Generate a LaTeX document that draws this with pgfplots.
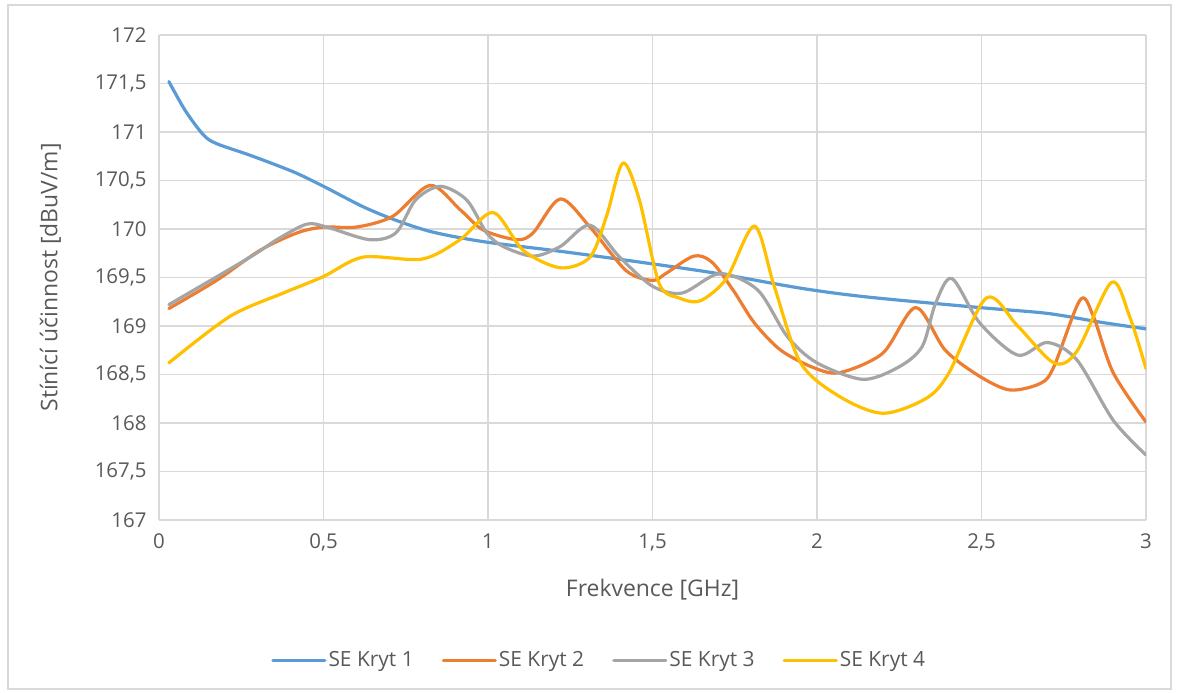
\documentclass[border=0pt]{standalone}
\usepackage{pgfplots}
\pgfplotsset{compat=1.18}
\usepackage{fontspec}
\setmainfont{Open Sans}
\definecolor{c1}{HTML}{5B9BD5}
\definecolor{c2}{HTML}{ED7D31}
\definecolor{c3}{HTML}{A5A5A5}
\definecolor{c4}{HTML}{FFC000}
\definecolor{txt}{HTML}{595959}
\definecolor{grd}{HTML}{D9D9D9}
\begin{document}
\begin{tikzpicture}
\path[use as bounding box] (0bp,0bp) rectangle (1179bp,693bp);
\draw[grd, line width=1.2bp] (8bp,4bp) rectangle (1171bp,688bp);
\begin{axis}[
  at={(159bp,173bp)}, anchor=south west,
  scale only axis, width=987bp, height=485bp,
  xmin=0, xmax=3, ymin=167, ymax=172,
  xtick={0,0.5,...,3}, ytick={167,167.5,...,172},
  grid=major, major grid style={grd, line width=1.2bp},
  tick style={draw=none},
  axis x line*=bottom, axis y line*=left,
  x axis line style={draw=grd, line width=1.2bp, -},
  y axis line style={draw=none, -},
  font=\fontsize{20.5}{24}\selectfont,
  tick label style={text=txt, font=\fontsize{20.5}{24}\selectfont},
  /pgf/number format/assume math mode=true,
  /pgf/number format/use comma,
  /pgf/number format/1000 sep={},
  yticklabel style={/pgf/number format/fixed, /pgf/number format/precision=1},
  xticklabel style={/pgf/number format/fixed, /pgf/number format/precision=1},
  xlabel={Frekvence [GHz]},
  ylabel={Stínící účinnost [dBuV/m]},
  xlabel style={at={(rel axis cs:0.5,-0.144)}, anchor=center, text=txt, font=\fontsize{23}{27}\selectfont},
  ylabel style={at={(rel axis cs:-0.110,0.5)}, anchor=center, rotate=0, text=txt, font=\fontsize{23}{27}\selectfont},
  xticklabel shift=10bp, yticklabel shift=9bp,
  legend columns=4,
  legend style={at={(rel axis cs:0.446,-0.289)}, anchor=center, draw=none, fill=none,
    text=txt, font=\fontsize{21}{25}\selectfont,
    /tikz/every even column/.append style={column sep=26bp}},
  legend image code/.code={\draw[#1] (0bp,0bp) -- (52bp,0bp);},
  every axis plot/.append style={line width=3.2bp, smooth, line join=round, line cap=round, mark=none},
]
\addplot[c1] coordinates {(0.03,171.52) (0.08,171.22) (0.135,170.97) (0.175,170.88) (0.277,170.76) (0.408,170.59) (0.5,170.44) (0.62,170.23) (0.72,170.09) (0.83,169.97) (0.985,169.87) (1.22,169.77) (1.48,169.65) (1.7,169.54) (1.95,169.39) (2.15,169.30) (2.495,169.19) (2.70,169.13) (2.86,169.04) (3.0,168.97)};
\addlegendentry{SE Kryt 1}
\addplot[c2] coordinates {(0.03,169.18) (0.175,169.47) (0.307,169.78) (0.42,169.96) (0.5,170.02) (0.6,170.02) (0.71,170.13) (0.824,170.45) (0.915,170.2) (0.985,169.99) (1.087,169.89) (1.137,169.96) (1.22,170.31) (1.31,170.02) (1.42,169.57) (1.50,169.47) (1.54,169.54) (1.625,169.72) (1.68,169.66) (1.745,169.37) (1.81,169.03) (1.89,168.75) (1.99,168.57) (2.07,168.52) (2.2,168.72) (2.30,169.19) (2.39,168.75) (2.495,168.48) (2.587,168.34) (2.68,168.41) (2.72,168.58) (2.80,169.27) (2.84,169.1) (2.90,168.52) (3.0,168.01)};
\addlegendentry{SE Kryt 2}
\addplot[c3] coordinates {(0.03,169.22) (0.277,169.71) (0.358,169.89) (0.449,170.05) (0.51,170.02) (0.64,169.89) (0.72,169.96) (0.78,170.3) (0.855,170.44) (0.935,170.3) (0.996,169.96) (1.046,169.82) (1.137,169.72) (1.22,169.82) (1.31,170.04) (1.40,169.71) (1.50,169.41) (1.59,169.34) (1.705,169.54) (1.82,169.37) (1.91,168.89) (2.00,168.62) (2.14,168.45) (2.25,168.58) (2.32,168.79) (2.36,169.23) (2.41,169.49) (2.495,169.03) (2.61,168.70) (2.70,168.83) (2.79,168.65) (2.90,168.03) (3.0,167.67)};
\addlegendentry{SE Kryt 3}
\addplot[c4] coordinates {(0.03,168.62) (0.216,169.1) (0.378,169.34) (0.5,169.51) (0.62,169.71) (0.80,169.69) (0.915,169.89) (1.016,170.17) (1.107,169.78) (1.22,169.6) (1.31,169.71) (1.36,170.13) (1.41,170.68) (1.46,170.3) (1.52,169.44) (1.58,169.29) (1.645,169.26) (1.725,169.49) (1.81,170.03) (1.87,169.41) (1.95,168.62) (2.07,168.27) (2.20,168.1) (2.33,168.25) (2.40,168.51) (2.515,169.29) (2.61,169.0) (2.72,168.62) (2.79,168.74) (2.895,169.45) (2.95,169.1) (3.0,168.56)};
\addlegendentry{SE Kryt 4}
\end{axis}
\end{tikzpicture}
\end{document}
